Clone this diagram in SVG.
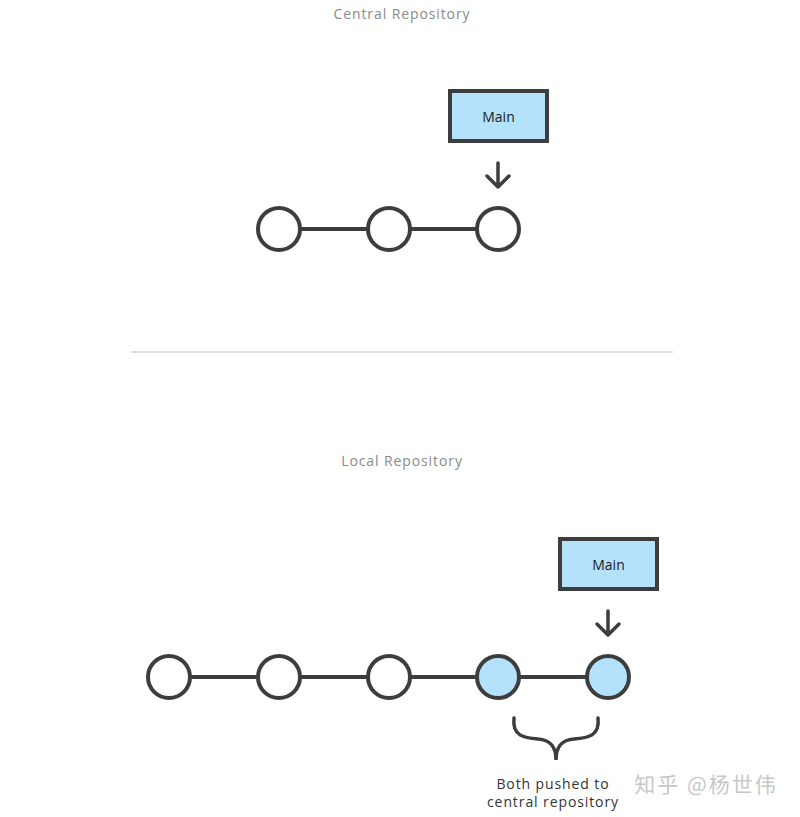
<svg xmlns="http://www.w3.org/2000/svg" width="800" height="817" viewBox="0 0 800 817">
<style>
.title{font-family:"Open Sans","Liberation Sans",sans-serif;font-size:14px;fill:#8a8a8a;letter-spacing:0.9px;text-anchor:middle}
.commit{fill:#fff;stroke:#3d3d3d;stroke-width:4}
.pushed{fill:#b5e2fb;stroke:#3d3d3d;stroke-width:4}
.box{fill:#b5e2fb;stroke:#3d3d3d;stroke-width:4}
.lbl{font-family:"Open Sans","Liberation Sans",sans-serif;font-size:14px;fill:#1a1a1a;text-anchor:middle}
.edge{stroke:#3d3d3d;stroke-width:4;fill:none}
.arrow{stroke:#3d3d3d;stroke-width:3.5;fill:none;stroke-linecap:round;stroke-linejoin:round}
.note{font-family:"Open Sans","Liberation Sans",sans-serif;font-size:14px;fill:#333;text-anchor:middle;letter-spacing:0.9px}
</style>
<rect width="800" height="817" fill="#fff"/>
<text class="title" x="402" y="19">Central Repository</text>
<line x1="131" y1="352" x2="673" y2="352" stroke="#d6d6d6" stroke-width="1.5"/>
<text class="title" x="402" y="466">Local Repository</text>
<g id="connectors">
<line class="edge" x1="300" y1="229" x2="368" y2="229"/>
<line class="edge" x1="410" y1="229" x2="477" y2="229"/>
<line class="edge" x1="190" y1="677" x2="258" y2="677"/>
<line class="edge" x1="300" y1="677" x2="368" y2="677"/>
<line class="edge" x1="410" y1="677" x2="477" y2="677"/>
<line class="edge" x1="519" y1="677" x2="587" y2="677"/>
<path class="arrow" d="M498 163V187M487 176L498 187L509 176"/>
<path class="arrow" d="M608 611V635M597 624L608 635L619 624"/>
</g>
<g id="c1"><circle class="commit" cx="279" cy="229" r="21"/></g>
<g id="c2"><circle class="commit" cx="389" cy="229" r="21"/></g>
<g id="c3"><circle class="commit" cx="498" cy="229" r="21"/></g>
<g id="main1"><rect class="box" x="450" y="91" width="97" height="50"/><text class="lbl" x="498.5" y="122">Main</text></g>
<g id="l1"><circle class="commit" cx="169" cy="677" r="21"/></g>
<g id="l2"><circle class="commit" cx="279" cy="677" r="21"/></g>
<g id="l3"><circle class="commit" cx="389" cy="677" r="21"/></g>
<g id="l4"><circle class="pushed" cx="498" cy="677" r="21"/></g>
<g id="l5"><circle class="pushed" cx="608" cy="677" r="21"/></g>
<g id="main2"><rect class="box" x="560" y="539" width="97" height="50"/><text class="lbl" x="608.5" y="570">Main</text></g>
<g id="brace">
<path d="M514 718C512 736 524 738 538 739C550 740 556 746 556 760C556 746 562 740 574 739C588 738 600 736 598 718" fill="none" stroke="#3d3d3d" stroke-width="3.5" stroke-linecap="round"/>
<text class="note" x="553" y="789">Both pushed to</text>
<text class="note" x="553" y="807">central repository</text>
</g>
<text x="706" y="792" font-family="'Noto Sans CJK SC',sans-serif" font-size="21" letter-spacing="2" fill="#c8c8c8" text-anchor="middle">知乎 @杨世伟</text>
</svg>
